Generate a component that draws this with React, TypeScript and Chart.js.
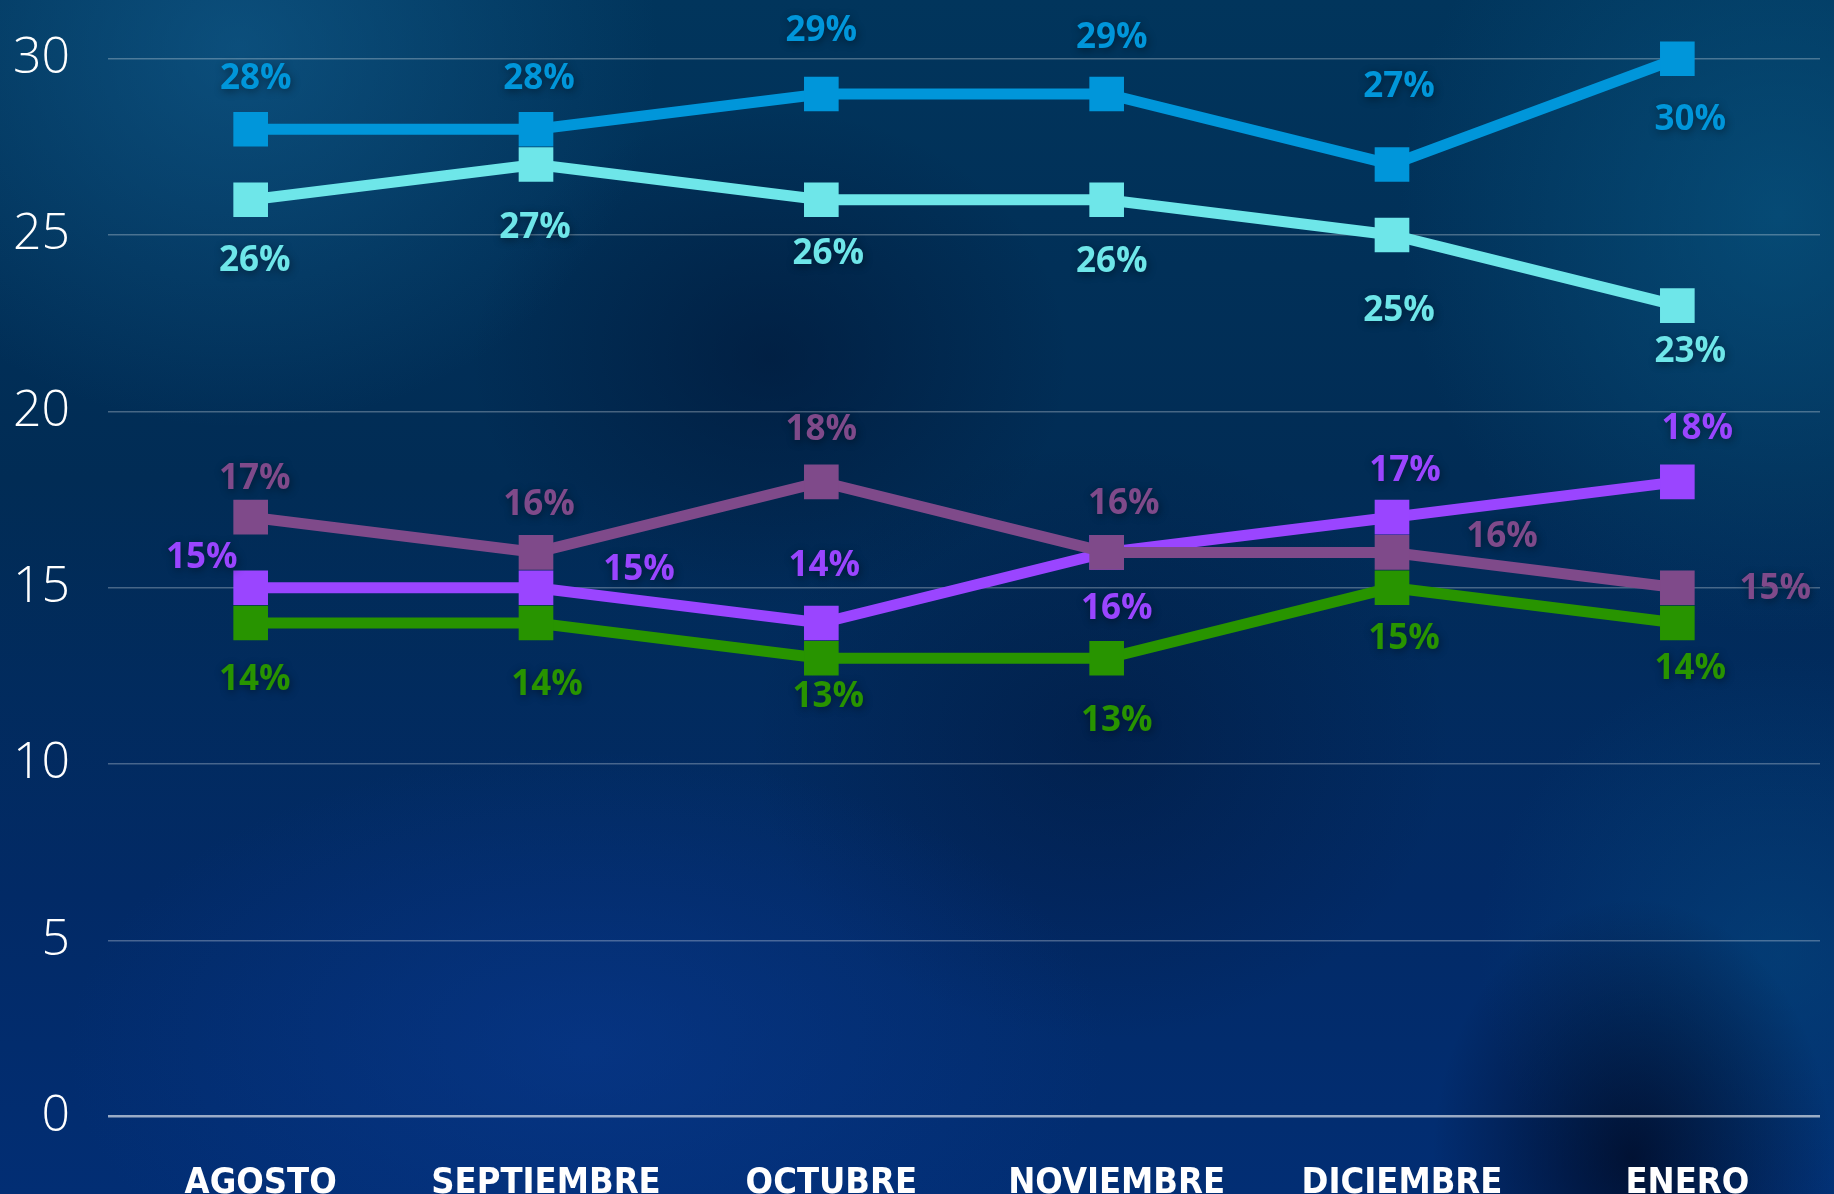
import { useEffect, useRef } from 'react';
import { Chart, registerables } from 'chart.js';

Chart.register(...registerables);

const categories = ['AGOSTO', 'SEPTIEMBRE', 'OCTUBRE', 'NOVIEMBRE', 'DICIEMBRE', 'ENERO'];
const seriesBlue = [28, 28, 29, 29, 27, 30];
const seriesCyan = [26, 27, 26, 26, 25, 23];
const seriesMauve = [17, 16, 18, 16, 16, 15];
const seriesViolet = [15, 15, 14, 16, 17, 18];
const seriesGreen = [14, 14, 13, 13, 15, 14];
const yTicks = [0, 5, 10, 15, 20, 25, 30];

// label placement offsets (px) relative to each point
const offBlue = [[5, -50], [3, -50], [0, -63], [5, -56], [7, -77], [13, 61]];
const offCyan = [[4, 61], [-1, 64], [7, 54], [5, 62], [7, 76], [13, 46]];
const offMauve = [[4, -38], [3, -47], [0, -52], [17, -48], [110, -15], [98, 1]];
const offViolet = [[-49, -30], [103, -18], [3, -57], [10, 57], [13, -46], [20, -53]];
const offGreen = [[4, 57], [11, 62], [7, 39], [10, 63], [12, 51], [13, 46]];

const W = 1834;
const H = 1194;

const labelPlugin = {
  id: 'pctLabels',
  afterDatasetsDraw(chart: any) {
    const ctx = chart.ctx;
    ctx.save();
    ctx.font = "bold 35px 'Open Sans'";
    ctx.textAlign = 'center';
    ctx.textBaseline = 'middle';
    ctx.shadowColor = 'rgba(0,0,0,0.45)';
    ctx.shadowBlur = 8;
    ctx.shadowOffsetX = 1;
    ctx.shadowOffsetY = 2;
    chart.data.datasets.forEach((ds: any, di: number) => {
      const meta = chart.getDatasetMeta(di);
      meta.data.forEach((pt: any, i: number) => {
        const off = ds.labelOffsets[i];
        ctx.fillStyle = ds.borderColor;
        ctx.fillText(ds.data[i] + '%', pt.x + off[0], pt.y + off[1]);
      });
    });
    ctx.restore();
  },
};

function makeDs(data: number[], color: string, offsets: number[][]) {
  return {
    data,
    borderColor: color,
    backgroundColor: color,
    pointBackgroundColor: color,
    pointBorderWidth: 0,
    pointStyle: 'rect',
    pointRadius: 24.5,
    pointHoverRadius: 24.5,
    borderWidth: 11,
    tension: 0,
    fill: false,
    clip: false,
    labelOffsets: offsets,
  } as any;
}

export default function App() {
  const ref = useRef<HTMLCanvasElement>(null);
  useEffect(() => {
    document.body.style.margin = '0';
    document.body.style.overflow = 'hidden';
    const canvas = ref.current!;
    const chart = new Chart(canvas, {
      type: 'line',
      data: {
        labels: categories,
        datasets: [
          makeDs(seriesBlue, '#0096DA', offBlue),
          makeDs(seriesCyan, '#6EE6E9', offCyan),
          makeDs(seriesMauve, '#7F4A8A', offMauve),
          makeDs(seriesViolet, '#9A45FF', offViolet),
          makeDs(seriesGreen, '#289400', offGreen),
        ],
      },
      options: {
        animation: false,
        responsive: false,
        maintainAspectRatio: false,
        layout: { autoPadding: false, padding: { top: 58.7, right: 14, bottom: 0, left: 0 } },
        plugins: { legend: { display: false }, tooltip: { enabled: false } },
        scales: {
          x: {
            offset: true,
            grid: { display: false, drawTicks: false },
            border: { display: false },
            ticks: {
              color: '#ffffff',
              font: { family: "'Liberation Sans Narrow', 'DejaVu Sans Condensed', sans-serif", size: 36, weight: 'bold' },
              padding: 45,
              labelOffset: 10,
              maxRotation: 0,
              autoSkip: false,
            },
            afterFit: (s: any) => {
              s.height = 77.3;
            },
          },
          y: {
            min: 0,
            max: 30,
            afterBuildTicks: (s: any) => {
              s.ticks = yTicks.map((v) => ({ value: v }));
            },
            ticks: {
              color: '#ffffff',
              font: { family: "'Open Sans'", size: 50, weight: 300 },
              padding: 38,
            },
            grid: {
              drawTicks: false,
              color: (c: any) => (c.tick && c.tick.value === 0 ? 'rgba(255,255,255,0.6)' : 'rgba(255,255,255,0.28)'),
              lineWidth: (c: any) => (c.tick && c.tick.value === 0 ? 2.5 : 1.5),
            },
            border: { display: false },
            afterFit: (s: any) => {
              s.width = 108;
              s.paddingTop = 0;
              s.paddingBottom = 0;
            },
          },
        },
      } as any,
      plugins: [labelPlugin],
    });
    return () => chart.destroy();
  }, []);

  const bg = [
    'radial-gradient(ellipse 420px 380px at 13% 4%, rgba(20,100,150,0.55), rgba(20,100,150,0) 100%)',
    'radial-gradient(ellipse 380px 420px at 97% 18%, rgba(10,95,140,0.55), rgba(10,95,140,0) 100%)',
    'radial-gradient(ellipse 200px 260px at 89% 97%, rgba(0,5,25,0.7), rgba(0,5,25,0) 100%)',
    'radial-gradient(ellipse 520px 300px at 32% 88%, rgba(10,60,150,0.5), rgba(10,60,150,0) 100%)',
    'radial-gradient(ellipse 300px 250px at 42% 30%, rgba(0,15,45,0.45), rgba(0,15,45,0) 100%)',
    'radial-gradient(ellipse 350px 300px at 60% 62%, rgba(0,15,45,0.35), rgba(0,15,45,0) 100%)',
    'radial-gradient(ellipse 300px 300px at 97% 80%, rgba(5,80,130,0.45), rgba(5,80,130,0) 100%)',
    'linear-gradient(180deg, #01355c 0%, #012c55 40%, #022a66 75%, #022e74 100%)',
  ].join(', ');

  return (
    <div style={{ position: 'fixed', left: 0, top: 0, width: W, height: H, overflow: 'hidden', background: bg }}>
      <canvas ref={ref} width={W} height={H} style={{ display: 'block', width: W, height: H }} />
    </div>
  );
}
